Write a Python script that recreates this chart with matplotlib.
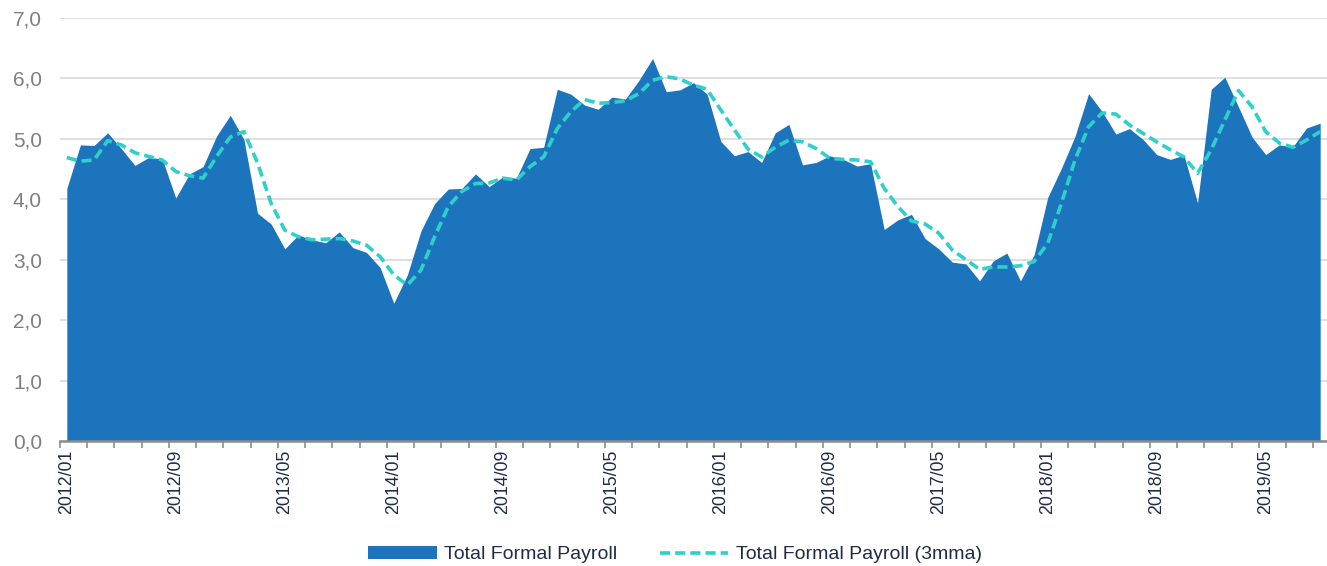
import matplotlib
matplotlib.use('Agg')
import matplotlib.pyplot as plt
import numpy as np
import pandas as pd

# monthly series, 2012/01 .. 2019/09
start_month = '2012-01'
n_months = 93

payroll = [4.18, 4.90, 4.89, 5.10, 4.84, 4.56, 4.69, 4.67, 4.02, 4.42, 4.54, 5.05,
           5.39, 4.99, 3.77, 3.59, 3.18, 3.41, 3.33, 3.28, 3.46, 3.20, 3.12, 2.87,
           2.28, 2.75, 3.48, 3.93, 4.17, 4.18, 4.42, 4.21, 4.37, 4.35, 4.84, 4.86,
           5.82, 5.74, 5.56, 5.49, 5.69, 5.66, 5.97, 6.33, 5.78, 5.81, 5.93, 5.74,
           4.96, 4.72, 4.79, 4.61, 5.10, 5.24, 4.57, 4.61, 4.72, 4.66, 4.55, 4.59,
           3.50, 3.66, 3.75, 3.35, 3.18, 2.96, 2.93, 2.65, 2.98, 3.11, 2.65, 3.08,
           4.03, 4.51, 5.04, 5.75, 5.45, 5.08, 5.17, 4.99, 4.74, 4.66, 4.73, 3.94,
           5.82, 6.02, 5.53, 5.03, 4.74, 4.90, 4.87, 5.18, 5.26]

payroll_3mma = [4.69, 4.63, 4.65, 4.97, 4.90, 4.77, 4.71, 4.65, 4.46, 4.39, 4.35, 4.71,
                5.03, 5.12, 4.60, 3.93, 3.49, 3.38, 3.33, 3.34, 3.35, 3.31, 3.24, 3.05,
                2.75, 2.58, 2.83, 3.38, 3.88, 4.13, 4.26, 4.27, 4.35, 4.32, 4.54, 4.70,
                5.17, 5.45, 5.65, 5.59, 5.60, 5.63, 5.75, 5.97, 6.03, 5.99, 5.89, 5.82,
                5.48, 5.15, 4.83, 4.70, 4.86, 4.98, 4.95, 4.84, 4.68, 4.66, 4.65, 4.62,
                4.18, 3.88, 3.64, 3.59, 3.44, 3.16, 3.00, 2.84, 2.88, 2.88, 2.90, 2.97,
                3.27, 3.93, 4.65, 5.20, 5.43, 5.41, 5.23, 5.09, 4.95, 4.82, 4.70, 4.43,
                4.82, 5.31, 5.80, 5.53, 5.12, 4.93, 4.86, 4.98, 5.12]

months = pd.period_range(start_month, periods=n_months, freq='M')
labels = [m.strftime('%Y/%m') for m in months]

plt.rcParams['font.family'] = ['Liberation Sans', 'DejaVu Sans']

fig = plt.figure(figsize=(13.27, 5.66), dpi=100)
ax = fig.add_axes([60/1327, 125/566, 1267/1327, 423/566])

x = np.arange(n_months)
ax.fill_between(x, 0, payroll, color='#1C75BC', lw=0, label='Total Formal Payroll', zorder=2)
ax.plot(x, payroll_3mma, color='#2FCFCC', lw=2.6, ls=(0, (2.8, 1.4)),
        label='Total Formal Payroll (3mma)', zorder=3)

ax.set_xlim(-0.5, n_months - 0.5)
ax.set_ylim(0, 7)
yt = np.arange(0, 7.01, 1)
ax.set_yticks(yt)
ax.set_yticklabels([f'{v:.1f}'.replace('.', ',') for v in yt],
                   fontsize=15, color='#7F7F7F')
ax.tick_params(axis='y', length=0, pad=13)
ax.grid(axis='y', color='#D9D9D9', lw=1.2, zorder=0)
ax.set_axisbelow(True)

ax.set_xticks(x[::8])
ax.set_xticklabels(labels[::8], rotation=90, fontsize=12.8, color='#1F2B47')
ax.set_xticks(np.arange(-0.5, n_months, 2), minor=True)
ax.tick_params(axis='x', which='major', length=0, pad=6)
ax.tick_params(axis='x', which='minor', length=5, width=1.2, color='#8C8C8C')

for s in ['top', 'right', 'left']:
    ax.spines[s].set_visible(False)
ax.spines['bottom'].set_color('#8C8C8C')
ax.spines['bottom'].set_linewidth(1.8)
ax.spines['bottom'].set_zorder(4)

leg = fig.legend(loc='center', bbox_to_anchor=(0.509, 0.02), ncol=2, frameon=False,
                 fontsize=14, handlelength=3.5, columnspacing=2.2, handletextpad=0.41)
for t in leg.get_texts():
    t.set_color('#1F2B47')

fig.savefig('out.png', dpi=100)
plt.close('all')
